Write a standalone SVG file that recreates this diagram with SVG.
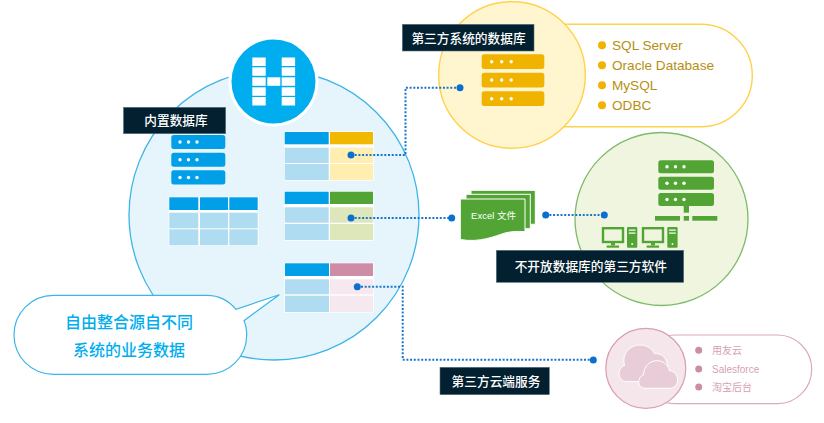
<svg xmlns="http://www.w3.org/2000/svg" width="824" height="423" viewBox="0 0 824 423">
<style>
.cjk{font-family:"Liberation Sans","Noto Sans CJK SC",sans-serif}
.lbl{fill:#02202f;stroke:#5a7480;stroke-width:.6}
.lt{fill:#fff;font-size:12.7px;font-weight:500;text-anchor:middle;font-family:"Noto Sans CJK SC",sans-serif}
.blue{fill:#009fe8}.lblue{fill:#b0dcf2}
.dot{fill:#fff}
.conn{fill:none;stroke:#1a76cc;stroke-width:2;stroke-dasharray:2 1.7}
.end{fill:#0a6fcf}
.yi{fill:#efb300}.gi{fill:#52a535}.pi{fill:#cd8da6}
.ylist{fill:#b5900f;font-size:13.6px;font-family:"Liberation Sans",sans-serif}
.plist{fill:#d79fb5;font-size:10px;font-family:"Liberation Sans","Noto Sans CJK SC",sans-serif}
.bub{fill:#00aeef;font-size:16px;font-weight:500;text-anchor:middle;font-family:"Noto Sans CJK SC",sans-serif}
</style>
<defs>
<g id="dots3y"><circle class="dot" cx="0" cy="0" r="1.7"/><circle class="dot" cx="10" cy="0" r="1.7"/><circle class="dot" cx="19.5" cy="0" r="1.7"/></g>
<g id="dots3"><circle class="dot" cx="0" cy="0" r="1.7"/><circle class="dot" cx="8.5" cy="0" r="1.7"/><circle class="dot" cx="17" cy="0" r="1.7"/></g>
</defs>

<g id="internal-db">
<circle cx="274" cy="215" r="145" fill="#e6f4fc" stroke="#3cb4e8" stroke-width="1.3"/>
</g>
<g id="logo">
<circle cx="273.5" cy="81.5" r="43.5" fill="#00aeef" stroke="#fff" stroke-width="3"/>
<g fill="#fff">
<rect x="252.3" y="57.5" width="13.4" height="8.5"/><rect x="252.3" y="67.3" width="13.4" height="8.5"/><rect x="252.3" y="77.3" width="13.4" height="8.5"/><rect x="252.3" y="87.3" width="13.4" height="8.5"/><rect x="252.3" y="97" width="13.4" height="8.5"/>
<rect x="281.7" y="57.5" width="13.4" height="8.5"/><rect x="281.7" y="67.3" width="13.4" height="8.5"/><rect x="281.7" y="77.3" width="13.4" height="8.5"/><rect x="281.7" y="87.3" width="13.4" height="8.5"/><rect x="281.7" y="97" width="13.4" height="8.5"/>
<rect x="267.3" y="77.3" width="13" height="8.5"/>
</g>
</g>

<g id="third-party-db">
<rect x="460" y="24.3" width="292.3" height="102.4" rx="51.2" fill="#fff" stroke="#ffd24d" stroke-width="1.4"/>
<circle cx="512" cy="75" r="73.3" fill="#fff5cf" stroke="#ffd24d" stroke-width="1.4"/>
<rect class="yi" x="481.7" y="54.3" width="62.6" height="14.7" rx="2.5"/><rect class="yi" x="481.7" y="72.7" width="62.6" height="14.7" rx="2.5"/><rect class="yi" x="481.7" y="91.3" width="62.6" height="14.7" rx="2.5"/>
<use href="#dots3y" x="491.7" y="61.7"/><use href="#dots3y" x="491.7" y="80"/><use href="#dots3y" x="491.7" y="98.7"/>
<g class="yi"><circle cx="602" cy="45.3" r="4"/><circle cx="602" cy="65.3" r="4"/><circle cx="602" cy="85.3" r="4"/><circle cx="602" cy="105.3" r="4"/></g>
<text class="ylist" x="612" y="50.300">SQL Server</text>
<text class="ylist" x="612" y="70.300">Oracle Database</text>
<text class="ylist" x="612" y="90.300">MySQL</text>
<text class="ylist" x="612" y="110.300">ODBC</text>
<rect class="lbl" x="402.3" y="24.3" width="131.7" height="26.7"/>
<text class="lt" x="468.5" y="42.8">第三方系统的数据库</text>
</g>

<g id="third-party-software">
<circle cx="661.5" cy="219" r="86.5" fill="#f0f5e0" stroke="#7dbb68" stroke-width="1.3"/>
<rect class="gi" x="658.3" y="160.3" width="55.7" height="13" rx="2.5"/><rect class="gi" x="658.3" y="176.7" width="55.7" height="13" rx="2.5"/><rect class="gi" x="658.3" y="193" width="55.7" height="13" rx="2.5"/>
<use href="#dots3" x="667" y="166.8"/><use href="#dots3" x="667" y="183.2"/><use href="#dots3" x="667" y="199.5"/>
<rect class="gi" x="683.7" y="206" width="5.3" height="6.7"/>
<rect class="gi" x="655" y="216" width="25" height="4.7"/><rect class="gi" x="683.7" y="216" width="5.3" height="4.7"/><rect class="gi" x="692.3" y="216" width="25" height="4.7"/>
<g id="pc1">
<rect x="603" y="228.2" width="20" height="13.8" fill="none" stroke="#52a535" stroke-width="2.4"/>
<rect class="gi" x="611" y="243" width="4" height="2.5"/><rect class="gi" x="606.7" y="245.5" width="12.4" height="2.2"/>
<rect class="gi" x="627" y="227" width="10.3" height="20.7" rx="1"/>
<rect x="628.8" y="229.5" width="6.7" height="1.2" fill="#fff"/><rect x="628.8" y="232.5" width="6.7" height="1.2" fill="#fff"/><circle cx="632.2" cy="244" r="1" fill="#fff"/>
</g>
<g id="pc2">
<rect x="643" y="228.2" width="20" height="13.8" fill="none" stroke="#52a535" stroke-width="2.4"/>
<rect class="gi" x="651" y="243" width="4" height="2.5"/><rect class="gi" x="646.7" y="245.5" width="12.4" height="2.2"/>
<rect class="gi" x="667.3" y="227" width="10.3" height="20.7" rx="1"/>
<rect x="669.1" y="229.5" width="6.7" height="1.2" fill="#fff"/><rect x="669.1" y="232.5" width="6.7" height="1.2" fill="#fff"/><circle cx="672.5" cy="244" r="1" fill="#fff"/>
</g>
<rect class="lbl" x="496.3" y="250.3" width="187.4" height="32"/>
<text class="lt" x="590.8" y="271">不开放数据库的第三方软件</text>
</g>

<g id="third-party-cloud">
<rect x="640" y="335" width="171.7" height="68.7" rx="34.3" fill="#fff" stroke="#dba9bd" stroke-width="1.2"/>
<circle cx="645.8" cy="368.300" r="40" fill="#f5e6ec" stroke="#d89db3" stroke-width="1.2"/>
<path d="M627 381.700c-5 0-8-4-8-8.500 0-4 2.500-6.700 5.500-7.700-.5-2-.7-3.500-.7-5 0-8.500 7.200-15.500 16.200-15.500 6.500 0 12 3.500 14.500 8.500 6-.5 11 3 12.700 10v18.200z" fill="#e8cdd9" stroke="#fff" stroke-width="1"/>
<path d="M645 388.300c-4 0-6.300-3-6.300-6.500 0-3.500 2-6 4.800-7 .3-8 6-14.100 13.500-14.100 6 0 11 4 12.500 10 5 .5 8.100 4.500 8.100 9 0 5-3.500 8.600-8.300 8.600z" fill="#e8cdd9" stroke="#fff" stroke-width="1"/>
<g class="pi"><circle cx="698.700" cy="350.300" r="3.500"/><circle cx="698.700" cy="369" r="3.500"/><circle cx="698.700" cy="387" r="3.500"/></g>
<text class="plist" x="712" y="354">用友云</text>
<text class="plist" x="712" y="372.500">Salesforce</text>
<text class="plist" x="712" y="390.500">淘宝后台</text>
</g>

<g id="excel">
<g fill="#52a535" stroke="#fff" stroke-width="1">
<rect x="471" y="190.300" width="64.300" height="34"/>
<rect x="466" y="194.300" width="64.300" height="34.400"/>
<path d="M460.300 199H525V231.700C517 231 511 231.500 505 233 495 236 480 243 460.300 239.500Z"/>
</g>
<text x="493.500" y="218.500" fill="#fff" font-size="9.500" text-anchor="middle" class="cjk">Excel 文件</text>
</g>

<g id="label-internal">
<rect class="lbl" x="123.500" y="107.300" width="102.200" height="26.400"/>
<text class="lt" x="176" y="125">内置数据库</text>
</g>
<g id="servers-internal">
<rect class="blue" x="171.300" y="135" width="54" height="14" rx="2.500"/><rect class="blue" x="171.300" y="152.700" width="54" height="14" rx="2.500"/><rect class="blue" x="171.300" y="170.300" width="54" height="14.300" rx="2.500"/>
<use href="#dots3" x="180" y="142"/><use href="#dots3" x="180" y="159.700"/><use href="#dots3" x="180" y="177.500"/>
</g>
<g id="table-internal">
<rect x="168.700" y="196.700" width="90" height="49.300" fill="#fff"/>
<rect class="blue" x="169.300" y="197.300" width="29" height="12.700"/><rect class="blue" x="200" y="197.300" width="28" height="12.700"/><rect class="blue" x="229.300" y="197.300" width="28.400" height="12.700"/>
<rect class="lblue" x="169.300" y="212.700" width="29" height="15.600"/><rect class="lblue" x="200" y="212.700" width="28" height="15.600"/><rect class="lblue" x="229.300" y="212.700" width="28.400" height="15.600"/>
<rect class="lblue" x="169.300" y="229.300" width="29" height="16"/><rect class="lblue" x="200" y="229.300" width="28" height="16"/><rect class="lblue" x="229.300" y="229.300" width="28.400" height="16"/>
</g>
<g id="table-yellow">
<rect x="284" y="131.300" width="89.700" height="49.400" fill="#fff"/>
<rect class="blue" x="284.700" y="132" width="44" height="12.300"/><rect fill="#f0b900" x="330" y="132" width="43" height="12.300"/>
<rect class="lblue" x="284.700" y="147.700" width="44" height="15.300"/><rect fill="#ffeeb0" x="330" y="147.700" width="43" height="15.300"/>
<rect class="lblue" x="284.700" y="164" width="44" height="16"/><rect fill="#ffeeb0" x="330" y="164" width="43" height="16"/>
</g>
<g id="table-green">
<rect x="284" y="191" width="89.700" height="49.700" fill="#fff"/>
<rect class="blue" x="284.700" y="191.700" width="44" height="12.300"/><rect class="gi" x="330" y="191.700" width="43" height="12.300"/>
<rect class="lblue" x="284.700" y="207.300" width="44" height="15.400"/><rect fill="#dde7b9" x="330" y="207.300" width="43" height="15.400"/>
<rect class="lblue" x="284.700" y="224" width="44" height="16"/><rect fill="#dde7b9" x="330" y="224" width="43" height="16"/>
</g>
<g id="table-pink">
<rect x="284.300" y="262.700" width="89.400" height="49.900" fill="#fff"/>
<rect class="blue" x="285" y="263.300" width="44" height="12.700"/><rect class="pi" x="330" y="263.300" width="43" height="12.700"/>
<rect class="lblue" x="285" y="279.300" width="44" height="15"/><rect fill="#f5e8ee" x="330" y="279.300" width="43" height="15"/>
<rect class="lblue" x="285" y="295.700" width="44" height="16.300"/><rect fill="#f5e8ee" x="330" y="295.700" width="43" height="16.300"/>
</g>
<g id="connectors">
<path class="conn" d="M351 155H405.500V87.800H460"/>
<path class="conn" d="M351 218H451.700"/>
<path class="conn" d="M545.700 215H604.300"/>
<path class="conn" d="M357.300 286.700H402.700V359.700H593.300"/>
<circle class="end" cx="351" cy="155" r="3.500"/><circle class="end" cx="460" cy="87.800" r="3.500"/>
<circle class="end" cx="351" cy="218" r="3.500"/><circle class="end" cx="451.700" cy="218" r="3.500"/>
<circle class="end" cx="545.700" cy="215" r="3.500"/><circle class="end" cx="604.300" cy="215" r="3.500"/>
<circle class="end" cx="357.300" cy="286.700" r="3.500"/><circle class="end" cx="593.300" cy="360" r="3.500"/>
</g>
<g id="label-cloud">
<rect class="lbl" x="440" y="367.300" width="109.300" height="27.400"/>
<text class="lt" x="496" y="386">第三方云端服务</text>
</g>
<g id="callout">
<path d="M53.500 295.300H207C219 295.300 229 301 236 309.300L279.300 294.700 244 320.700C246 325 246.700 330 246.700 335 246.700 357 229 374.300 207 374.300H53.500C31.500 374.300 14 357 14 335 14 313 31.500 295.300 53.500 295.300Z" fill="#fff" stroke="#3bb5ea" stroke-width="1.200"/>
<text class="bub" x="129" y="327.500">自由整合源自不同</text>
<text class="bub" x="129" y="355.500">系统的业务数据</text>
</g>
</svg>
